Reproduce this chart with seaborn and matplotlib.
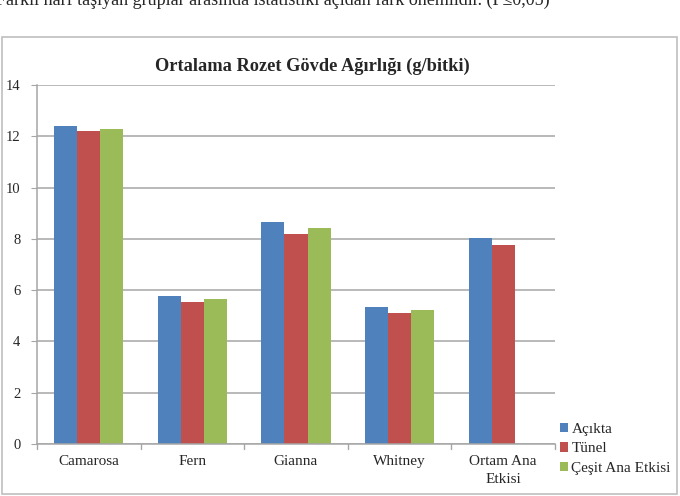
import matplotlib
matplotlib.use("Agg")
import matplotlib.pyplot as plt
import seaborn as sns
import pandas as pd
import numpy as np
from matplotlib.patches import Rectangle, Patch

categories = ["Camarosa", "Fern", "Gianna", "Whitney", "Ortam Ana\nEtkisi"]
series = ["Açıkta", "Tünel", "Çeşit Ana Etkisi"]
acikta = [12.40, 5.77, 8.66, 5.34, 8.03]
tunel = [12.20, 5.54, 8.19, 5.11, 7.76]
cesit = [12.30, 5.66, 8.42, 5.23, np.nan]
colors = ["#4F81BD", "#C0504D", "#9BBB59"]
yticks = [0, 2, 4, 6, 8, 10, 12, 14]
title = "Ortalama Rozet Gövde Ağırlığı (g/bitki)"
caption = "Farklı harf taşıyan gruplar arasında istatistiki açıdan fark önemlidir. (P≤0,05)"

rows = []
for s, vals in zip(series, [acikta, tunel, cesit]):
    for c, v in zip(categories, vals):
        rows.append({"cat": c, "series": s, "val": v})
df = pd.DataFrame(rows)

sns.set_style("white")
plt.rcParams["font.family"] = ["Liberation Serif", "DejaVu Serif"]

W, H = 680, 496
fig = plt.figure(figsize=(W / 100, H / 100), dpi=100)
ax = fig.add_axes([37 / W, 1 - 444 / H, (555 - 37) / W, (444 - 85) / H])

sns.barplot(data=df, x="cat", y="val", hue="series", order=categories,
            hue_order=series, palette=colors, width=0.667, saturation=1,
            ax=ax, legend=False, errorbar=None, edgecolor="none")

ax.set_ylim(0, 14)
ax.set_xlim(-0.5, len(categories) - 0.5)
ax.set_yticks(yticks)
ax.set_yticklabels([str(t) for t in yticks], fontsize=10.5)
ax.yaxis.grid(True, color="#A6A6A6", linewidth=1.1)
ax.set_axisbelow(True)
ax.set_xlabel("")
ax.set_ylabel("")
ax.set_xticks(range(len(categories)))
ax.set_xticklabels(categories, fontsize=11, linespacing=1.5)
ax.tick_params(axis="x", length=0, pad=8)
ax.tick_params(axis="y", length=4, color="#A6A6A6", left=True, pad=8)
for x in np.arange(-0.5, len(categories), 1.0):
    ax.plot([x, x], [0, -0.18], color="#A6A6A6", lw=1, clip_on=False)
for sp in ["top", "right"]:
    ax.spines[sp].set_visible(False)
for sp in ["left", "bottom"]:
    ax.spines[sp].set_color("#A6A6A6")
    ax.spines[sp].set_linewidth(1.1)

fig.text(312 / W, 1 - 66 / H, title, ha="center", va="center",
         fontsize=13.2, fontweight="bold")

handles = [Patch(facecolor=c, edgecolor="none") for c in colors]
fig.legend(handles, series, loc="upper left", bbox_to_anchor=(560 / W, 1 - 423 / H),
           frameon=False, fontsize=11, handlelength=0.55, handleheight=0.55,
           handletextpad=0.2, labelspacing=0.42, borderaxespad=0, borderpad=0)

fig.patches.append(Rectangle((2 / W, 1 - 494 / H), 675 / W, (494 - 37) / H,
                             transform=fig.transFigure, fill=False,
                             edgecolor="#BFBFBF", linewidth=1.2))

fig.text(-4 / W, 1 - 4.5 / H, caption, ha="left", va="baseline", fontsize=13)

fig.savefig("out.png", dpi=100)
